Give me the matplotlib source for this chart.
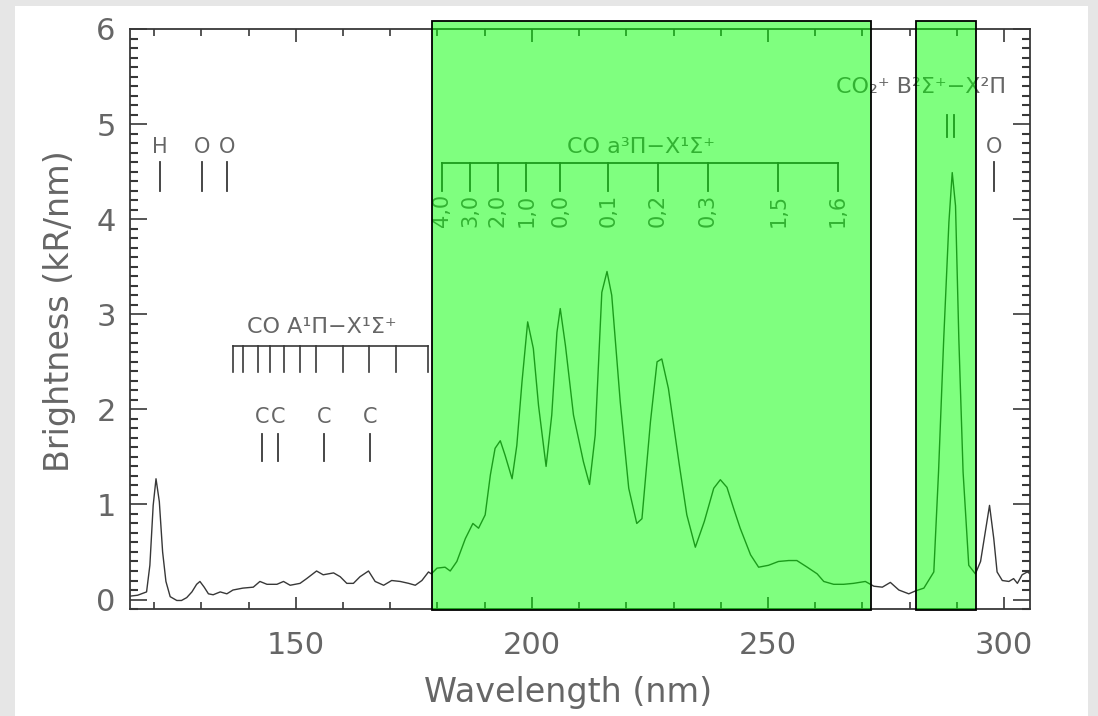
import matplotlib
matplotlib.use("Agg")
import matplotlib.pyplot as plt
from matplotlib.patches import Rectangle
from matplotlib.ticker import MultipleLocator

# Spectrum (nm, kR/nm)
wavelength = [114.8, 116.5, 118.4, 119.1, 119.8, 120.4, 121.1, 121.8, 122.5, 123.4,
              124.8, 125.8, 126.9, 128.0, 129.0, 129.7, 130.6, 131.5, 132.5, 134.0,
              135.4, 136.7, 138.8, 141.0, 142.4, 143.9, 146.0, 147.4, 148.8, 150.9,
              152.3, 154.4, 155.8, 158.0, 159.4, 160.8, 162.2, 163.6, 165.4, 166.8,
              168.6, 170.3, 172.1, 173.9, 175.3, 176.7, 178.1, 178.7, 179.9, 181.6,
              182.7, 184.1, 185.9, 187.5, 188.7, 190.1, 191.2, 192.2, 193.3, 194.3,
              195.8, 196.8, 197.9, 199.1, 200.3, 201.4, 203.0, 204.2, 205.3, 206.0,
              207.1, 208.8, 210.9, 212.2, 213.4, 214.8, 215.9, 216.9, 218.7, 220.5,
              222.2, 223.3, 225.1, 226.5, 227.5, 228.9, 231.2, 232.8, 234.6, 236.5,
              238.5, 239.9, 241.3, 242.7, 244.1, 246.3, 248.0, 250.1, 252.2, 254.4,
              256.1, 258.3, 260.4, 261.8, 263.9, 266.0, 268.1, 270.6, 272.4, 274.2,
              275.9, 277.7, 279.8, 281.2, 283.0, 285.1, 286.1, 287.2, 288.3, 289.0,
              289.7, 290.4, 291.3, 292.5, 293.9, 295.0, 296.0, 296.9, 297.8, 298.5,
              299.6, 301.0, 302.0, 302.8, 303.8, 304.9, 305.5]
brightness = [0.035, 0.045, 0.08, 0.36, 0.99, 1.27, 1.03, 0.50, 0.19, 0.03,
              -0.01, -0.01, 0.02, 0.08, 0.16, 0.19, 0.13, 0.06, 0.05, 0.08,
              0.06, 0.10, 0.12, 0.13, 0.19, 0.16, 0.16, 0.19, 0.15, 0.17,
              0.22, 0.30, 0.26, 0.28, 0.24, 0.17, 0.17, 0.24, 0.30, 0.19,
              0.15, 0.20, 0.19, 0.17, 0.15, 0.20, 0.29, 0.27, 0.33, 0.34,
              0.30, 0.40, 0.64, 0.80, 0.75, 0.89, 1.31, 1.59, 1.67, 1.52,
              1.27, 1.62, 2.29, 2.92, 2.64, 2.04, 1.40, 1.94, 2.81, 3.06,
              2.67, 1.94, 1.45, 1.21, 1.73, 3.23, 3.45, 3.20, 2.08, 1.17,
              0.80, 0.85, 1.87, 2.50, 2.53, 2.22, 1.42, 0.89, 0.55, 0.82,
              1.17, 1.26, 1.18, 0.96, 0.75, 0.47, 0.34, 0.36, 0.40, 0.41,
              0.41, 0.34, 0.27, 0.19, 0.16, 0.16, 0.17, 0.19, 0.14, 0.13,
              0.18, 0.10, 0.06, 0.09, 0.12, 0.29, 1.34, 2.74, 3.97, 4.49,
              4.14, 2.74, 1.34, 0.36, 0.27, 0.40, 0.71, 0.99, 0.64, 0.29,
              0.20, 0.19, 0.22, 0.17, 0.26, 0.29, 0.27]

# Atomic line markers
atom_names = ["H", "O", "O", "O"]
atom_lines = [121.3, 130.1, 135.4, 297.8]
carbon_lines = [142.8, 146.2, 156.0, 165.7]

# CO Fourth Positive (A-X) band positions
co_ax_bands = [136.8, 138.9, 141.9, 144.6, 147.4, 150.8, 154.3, 160.0, 165.4, 171.2, 178.1]

# CO Cameron (a-X) band positions and labels
cameron_bands = [180.9, 186.9, 192.8, 198.8, 206.0, 216.2, 226.7, 237.3, 252.2, 264.8]
cameron_labels = ["4,0", "3,0", "2,0", "1,0", "0,0", "0,1", "0,2", "0,3", "1,5", "1,6"]

# CO2+ doublet
co2p_lines = [287.9, 289.3]

# Highlighted wavelength ranges
spans = [(178.8, 271.7), (281.4, 294.1)]

txt = "#666666"
ink = "#383838"

fig = plt.figure(figsize=(10.98, 7.16), dpi=100, facecolor="#e6e6e6")
fig.patches.append(Rectangle((15 / 1098, 0), (1088 - 15) / 1098, 710 / 716,
                             transform=fig.transFigure, facecolor="white",
                             edgecolor="none", zorder=-5))
ax = fig.add_axes([0.118, 0.1494, 0.8202, 0.8101])
ax.set_facecolor("none")

ax.plot(wavelength, brightness, color=ink, lw=1.0)

ax.set_xlim(114.8, 305.5)
ax.set_ylim(-0.1, 6.0)
ax.xaxis.set_major_locator(MultipleLocator(50))
ax.xaxis.set_minor_locator(MultipleLocator(10))
ax.yaxis.set_major_locator(MultipleLocator(1))
ax.yaxis.set_minor_locator(MultipleLocator(0.1))
ax.tick_params(which="both", direction="in", top=True, right=True,
               colors=ink, labelcolor=txt, labelsize=22)
ax.tick_params(axis="x", which="major", length=9, width=1.2, pad=16)
ax.tick_params(axis="x", which="minor", length=5, width=1.2)
ax.tick_params(axis="y", which="major", length=12, width=1.2, pad=10)
ax.tick_params(axis="y", which="minor", length=6, width=1.5)
for s in ax.spines.values():
    s.set_color(ink)
    s.set_linewidth(1.3)

ax.set_xlabel("Wavelength (nm)", fontsize=24, color=txt)
ax.set_ylabel("Brightness (kR/nm)", fontsize=24, color=txt)
ax.xaxis.set_label_coords(0.487, -0.115)
ax.yaxis.set_label_coords(-0.06, 0.514)

# atomic lines
for name, x in zip(atom_names, atom_lines):
    ax.plot([x, x], [4.30, 4.60], color=ink, lw=1.3)
    ax.text(x, 4.76, name, ha="center", va="center", fontsize=15, color=txt)
for x in carbon_lines:
    ax.plot([x, x], [1.46, 1.74], color=ink, lw=1.3)
    ax.text(x, 1.92, "C", ha="center", va="center", fontsize=15, color=txt)

# CO A-X bracket
ax.plot([co_ax_bands[0], co_ax_bands[-1]], [2.665, 2.665], color=ink, lw=1.2)
for x in co_ax_bands:
    ax.plot([x, x], [2.39, 2.665], color=ink, lw=1.2)
ax.text(155.6, 2.87, "CO A¹Π−X¹Σ⁺", ha="center", va="center", fontsize=16, color=txt)

# CO Cameron bracket
ax.plot([cameron_bands[0], cameron_bands[-1]], [4.587, 4.587], color=ink, lw=1.3)
for x, lab in zip(cameron_bands, cameron_labels):
    ax.plot([x, x], [4.30, 4.587], color=ink, lw=1.3)
    ax.text(x, 4.27, lab, ha="center", va="top", rotation=90, fontsize=15, color=txt)
ax.text(223.2, 4.76, "CO a³Π−X¹Σ⁺", ha="center", va="center", fontsize=16, color=txt)

# CO2+ doublet
for x in co2p_lines:
    ax.plot([x, x], [4.86, 5.10], color=ink, lw=1.3)
ax.text(282.4, 5.39, "CO₂⁺ B²Σ⁺−X²Π", ha="center", va="center", fontsize=16, color=txt)

# translucent green highlight boxes
for x0, x1 in spans:
    ax.add_patch(Rectangle((x0, -0.115), x1 - x0, 6.2, facecolor=(0, 1, 0, 0.5),
                           edgecolor="black", lw=1.3, clip_on=False, zorder=10))

fig.savefig("out.png", dpi=100, facecolor=fig.get_facecolor())
